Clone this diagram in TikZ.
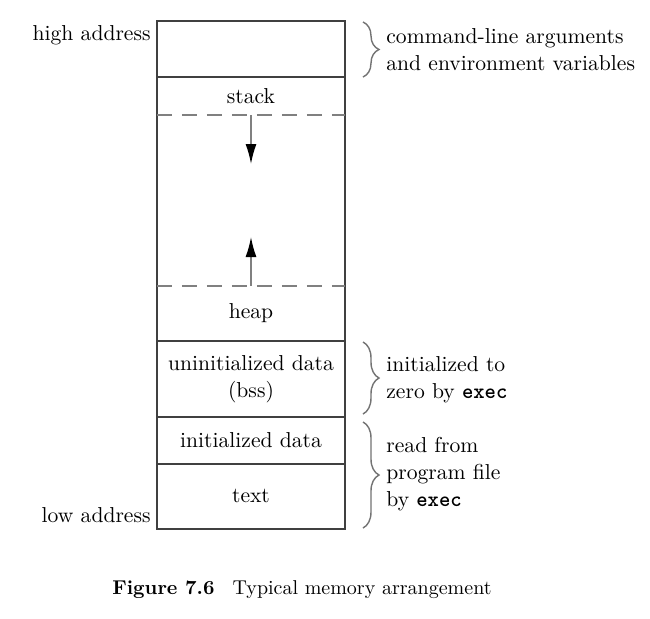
\documentclass[tikz,border=0pt]{standalone}
\usepackage{fontspec}
\usetikzlibrary{arrows.meta,decorations.pathreplacing}
\begin{document}
\begin{tikzpicture}[x=0.5pt, y=-0.5pt, font=\fontsize{10.8}{13.5}\selectfont,
		seg/.style={draw=black!75, line width=1pt},
		gapline/.style={draw=black!50, line width=0.8pt, dash pattern=on 7.5pt off 5pt},
		growarrow/.style={draw=black!50, line width=0.8pt, -{Latex[length=10pt,width=5.5pt,black]}},
		brc/.style={draw=black!55, line width=0.7pt, decorate, decoration={brace, amplitude=8pt}},
		note/.style={anchor=west, align=left, inner sep=0pt},
		addr/.style={anchor=base east, inner sep=0pt}]
	% 0. page size
	\useasboundingbox[fill=white] (0,0) rectangle (650,618);
	
	% 1. memory column
	\draw[seg] (157,21) rectangle (345,529);
	\draw[seg] (157,77) -- (345,77);
	\draw[seg] (157,341) -- (345,341);
	\draw[seg] (157,417) -- (345,417);
	\draw[seg] (157,464) -- (345,464);
	\draw[gapline] (157,115) -- (345,115);
	\draw[gapline] (157,286) -- (345,286);
	
	% 2. segment labels
	\node (stack) at (251,96) {stack};
	\node (heap) at (251,313) {heap};
	\node[align=center] (bss) at (251,379) {uninitialized data\\(bss)};
	\node (idata) at (251,440) {initialized data};
	\node (text) at (251,496) {text};
	
	% 3. growth arrows
	\coordinate (stacktop) at (251,115);
	\coordinate (stackend) at (251,164);
	\coordinate (heaptop) at (251,286);
	\coordinate (heapend) at (251,237);
	\draw[growarrow] (stacktop) -- (stackend);
	\draw[growarrow] (heaptop) -- (heapend);
	
	% 4. addresses
	\node[addr] (high) at (151,40) {high address};
	\node[addr] (low) at (151,522) {low address};
	
	% 5. braces and notes
	\draw[brc] (363,22) -- (363,77);
	\node[note] (args) at (386,50) {command-line arguments\\and environment variables};
	\draw[brc] (363,342) -- (363,414);
	\node[note] (zero) at (386,380) {initialized to\\zero by \texttt{\bfseries exec}};
	\draw[brc] (363,422) -- (363,528);
	\node[note] (prog) at (386,474) {read from\\program file\\by \texttt{\bfseries exec}};
	
	% 6. caption
	\node[font=\fontsize{10}{12}\selectfont] (cap) at (302,590) {\textbf{Figure 7.6}\hspace{0.9em}Typical memory arrangement};
\end{tikzpicture}
\end{document}
